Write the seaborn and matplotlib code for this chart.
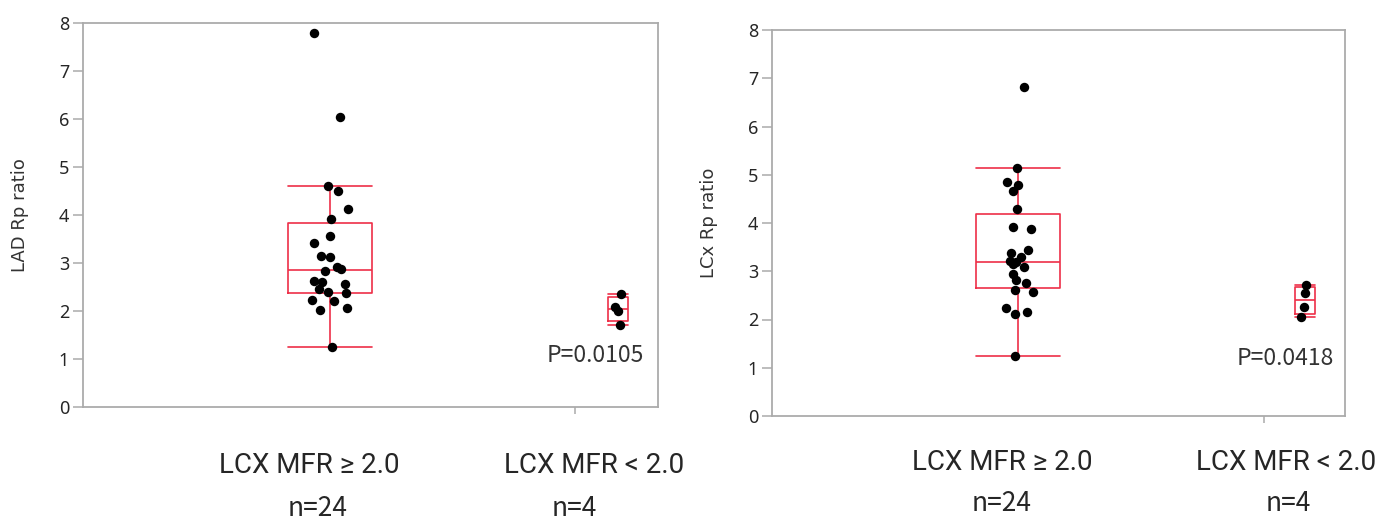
import numpy as np
import pandas as pd
import matplotlib
matplotlib.use("Agg")
import matplotlib.pyplot as plt
import seaborn as sns

# ---------------- data ----------------
groups = ["LCX MFR ≥ 2.0", "LCX MFR < 2.0"]
n_labels = ["n=24", "n=4"]
y_labels = ["LAD Rp ratio", "LCx Rp ratio"]
p_texts = ["P=0.0105", "P=0.0418"]
y_ticks = [0, 1, 2, 3, 4, 5, 6, 7, 8]

lad_high = [7.78, 6.04, 4.60, 4.50, 4.12, 3.91, 3.57, 3.41, 3.15, 3.12, 2.92, 2.88,
            2.84, 2.63, 2.60, 2.56, 2.47, 2.40, 2.37, 2.23, 2.21, 2.07, 2.02, 1.25]
lad_low = [2.35, 2.09, 2.01, 1.71]
lcx_high = [6.81, 5.13, 4.84, 4.78, 4.67, 4.28, 3.92, 3.88, 3.44, 3.38, 3.30, 3.21,
            3.19, 3.15, 3.09, 2.94, 2.82, 2.76, 2.62, 2.58, 2.23, 2.16, 2.11, 1.24]
lcx_low = [2.71, 2.55, 2.25, 2.06]

W, H = 1381, 522
RED = "#ee2f48"
GRAY = "#ababab"
TXT = "#262626"

sns.set_style("white")
plt.rcParams["font.family"] = ["DejaVu Sans"]

fig = plt.figure(figsize=(W / 100, H / 100), dpi=100)
ax1 = fig.add_axes([83 / W, 1 - 407.3 / H, 575 / W, 384.6 / H])
ax2 = fig.add_axes([772 / W, 1 - 416 / H, 573 / W, 386 / H])


def box_stats(vals):
    v = np.sort(np.asarray(vals, dtype=float))
    q1, med, q3 = np.percentile(v, [25, 50, 75], method="weibull")
    iqr = q3 - q1
    lo = v[v >= q1 - 1.5 * iqr].min()
    hi = v[v <= q3 + 1.5 * iqr].max()
    return dict(med=med, q1=q1, q3=q3, whislo=lo, whishi=hi, fliers=[])


panels = [
    (ax1, lad_high, lad_low, 0, 0.851),
    (ax2, lcx_high, lcx_low, 1, 0.857),
]

np.random.seed(7)
for ax, hi_vals, lo_vals, k, minor_x in panels:
    widths = [0.294, 0.068]
    lp = dict(color=RED, linewidth=1.2)
    ax.bxp([box_stats(hi_vals), box_stats(lo_vals)], positions=[0, 1],
           widths=widths, capwidths=widths, showfliers=False,
           boxprops=lp, whiskerprops=lp, capprops=lp, medianprops=lp,
           manage_ticks=False, zorder=2)

    df = pd.DataFrame({
        "group": [groups[0]] * len(hi_vals) + [groups[1]] * len(lo_vals),
        "value": list(hi_vals) + list(lo_vals),
    })
    sns.stripplot(data=df[df["group"] == groups[0]], x="group", y="value",
                  order=groups, jitter=0.065, color="black", size=6.8,
                  linewidth=0, ax=ax, zorder=3)
    sns.stripplot(data=df[df["group"] == groups[1]], x="group", y="value",
                  order=groups, jitter=0.015, color="black", size=6.8,
                  linewidth=0, ax=ax, zorder=3)

    ax.set_xlim(-0.857, 1.139)
    ax.set_ylim(0, 8)
    ax.set_yticks(y_ticks)
    ax.set_yticklabels([str(t) for t in y_ticks])
    ax.set_xticks([])
    ax.set_xticks([minor_x], minor=True)
    ax.set_xlabel("")
    ax.set_ylabel(y_labels[k], fontsize=13, color="#333333")
    ax.yaxis.set_label_coords(-0.094, 0.5)
    for sp in ax.spines.values():
        sp.set_visible(True)
        sp.set_color(GRAY)
        sp.set_linewidth(1.3)
    ax.tick_params(axis="y", which="major", direction="out", length=7,
                   width=1.1, color=GRAY, labelcolor=TXT, labelsize=13,
                   pad=3, left=True)
    ax.tick_params(axis="x", which="minor", direction="out", length=5,
                   width=1.1, color=GRAY, bottom=True)
    for lab in ax.get_yticklabels():
        lab.set_family(["Noto Sans", "DejaVu Sans"])
    ax.grid(False)

cjk = ["Noto Sans CJK JP", "DejaVu Sans"]
lat = ["Roboto", "DejaVu Sans"]

# category labels and counts (pixel positions of text baselines)
label_pos = [
    [(309, 473), (594, 473)],
    [(1002, 470), (1286, 470)],
]
n_pos = [
    [(318, 516), (574, 516)],
    [(1002, 511), (1288, 511)],
]
p_pos = [(595, 361.5), (1285, 365)]

for k in range(2):
    for j in range(2):
        x, y = label_pos[k][j]
        fig.text(x / W, 1 - y / H, groups[j], ha="center", va="baseline",
                 fontsize=20, color=TXT, family=lat)
        x, y = n_pos[k][j]
        fig.text(x / W, 1 - y / H, n_labels[j], ha="center", va="baseline",
                 fontsize=19, color=TXT, family=cjk)
    x, y = p_pos[k]
    fig.text(x / W, 1 - y / H, p_texts[k], ha="center", va="baseline",
             fontsize=16.5, color="#333333", family=cjk)

fig.savefig("out.png", dpi=100)
